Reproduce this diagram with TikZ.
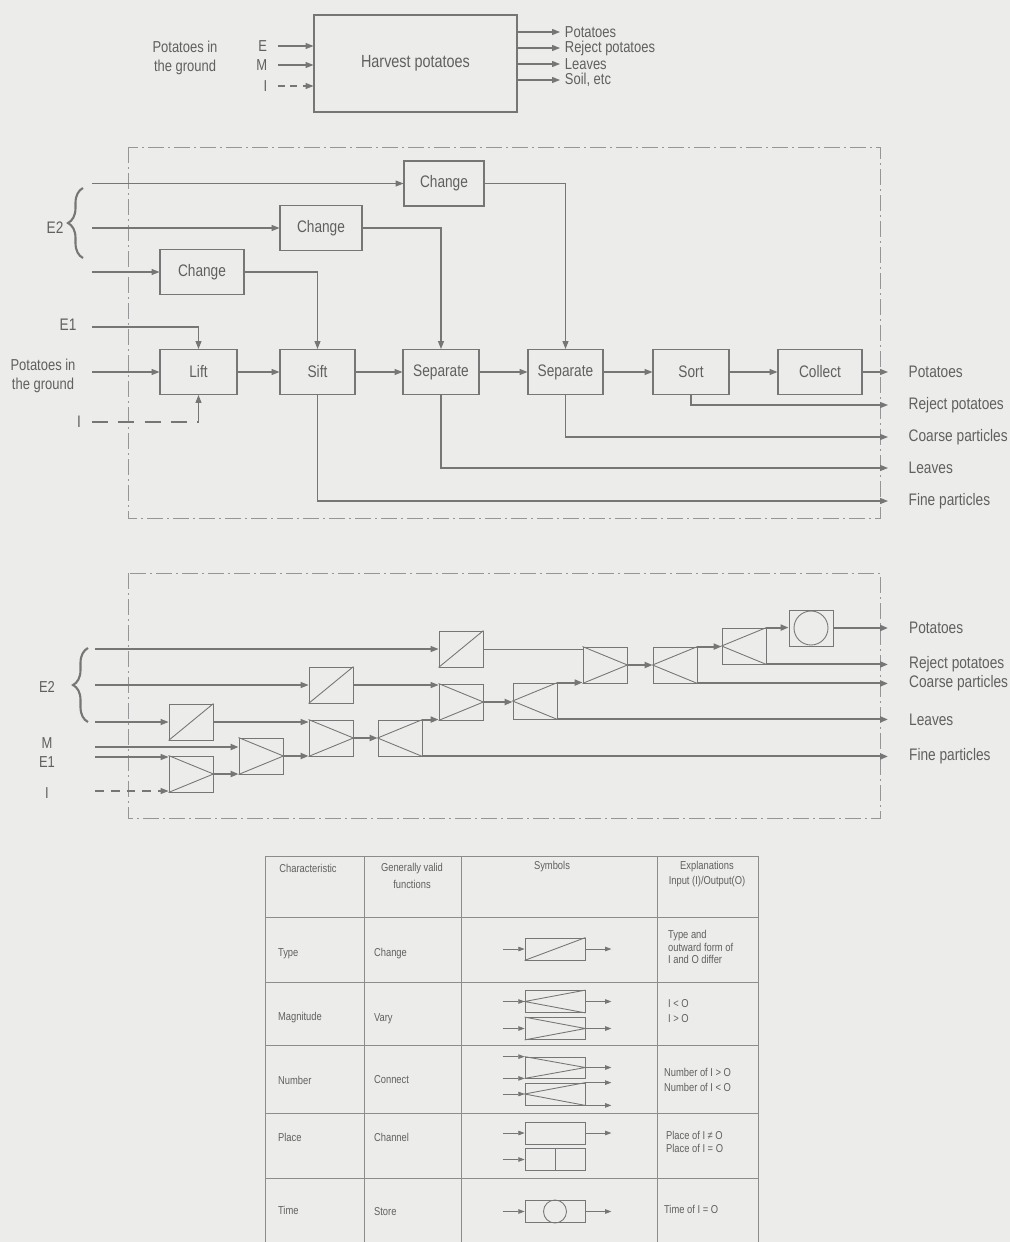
\documentclass[tikz,border=0pt]{standalone}
\usepackage{fontspec}
\setmainfont{Liberation Sans}[FakeStretch=0.82]
\usepackage{xcolor}
\usepackage{tikz}
\usetikzlibrary{arrows.meta, positioning, calc, decorations.pathreplacing}
\definecolor{ScanPaper}{RGB}{236, 236, 234}
\definecolor{ScanInk}{RGB}{118, 118, 118}
\definecolor{ScanText}{RGB}{96, 96, 96}
\definecolor{ScanFrame}{RGB}{150, 150, 150}
\definecolor{ScanGrid}{RGB}{140, 140, 140}

\tikzset{
  lbl/.style={text=ScanText, font=\fontsize{9.5}{11}\selectfont, inner sep=1pt},
  toplbl/.style={lbl, font=\fontsize{9}{10.8}\selectfont},
  tabtxt/.style={text=ScanText, font=\fontsize{6.5}{8}\selectfont, inner sep=1pt},
  procbox/.style={draw=ScanInk, line width=0.6pt, minimum width=1.52cm, minimum height=0.9cm, lbl},
  symbox/.style={draw=ScanInk, line width=0.5pt, minimum width=0.88cm, minimum height=0.72cm, inner sep=0pt},
  tabbox/.style={draw=ScanInk, line width=0.45pt, minimum width=1.2cm, minimum height=0.44cm, inner sep=0pt},
  flow/.style={draw=ScanInk, line width=0.6pt, -{Triangle[length=4.5pt,width=3.4pt]}},
  matflow/.style={flow, line width=1.1pt},
  tflow/.style={draw=ScanInk, line width=0.45pt, -{Triangle[length=3.6pt,width=2.6pt]}},
  symline/.style={draw=ScanInk, line width=0.5pt},
  frame/.style={draw=ScanFrame, line width=0.45pt, dash pattern=on 9pt off 2.5pt on 0.8pt off 2.5pt},
  tabline/.style={draw=ScanGrid, line width=0.45pt},
  ebrace/.style={draw=ScanInk, line width=1.2pt, decorate, decoration={brace, amplitude=0.3cm}}
}

\begin{document}
\begin{tikzpicture}[x=0.02cm, y=-0.02cm]
  \fill[ScanPaper] (0,0) rectangle (1010,1242);
  \useasboundingbox (0,0) rectangle (1010,1242);

  % overall function
  \node[procbox, font=\fontsize{10}{12}\selectfont, minimum width=4.06cm, minimum height=1.94cm] (harvest) at (415.5,63.5) {Harvest potatoes};
  \coordinate (tE) at (278,46);
  \coordinate (tM) at (278,65);
  \coordinate (tI) at (278,86);
  \node[toplbl, left=5pt of tE] (tElbl) {E};
  \node[toplbl, left=5pt of tM] (tMlbl) {M};
  \node[toplbl, left=5pt of tI] (tIlbl) {I};
  \node[toplbl, align=center] (tsoil) at (185,58) {Potatoes in\\the ground};
  \draw[flow] (tE) -- (tE -| harvest.west);
  \draw[flow] (tM) -- (tM -| harvest.west);
  \draw[flow, dash pattern=on 4pt off 3pt] (tI) -- (tI -| harvest.west);
  \coordinate (tout1) at (560,32);
  \coordinate (tout2) at (560,48);
  \coordinate (tout3) at (560,64);
  \coordinate (tout4) at (560,80);
  \draw[flow] (harvest.east |- tout1) -- (tout1) node[toplbl, anchor=west, xshift=1.5pt] (tPot) {Potatoes};
  \draw[flow] (harvest.east |- tout2) -- (tout2) node[toplbl, anchor=west, xshift=1.5pt] (tRej) {Reject potatoes};
  \draw[flow] (harvest.east |- tout3) -- (tout3) node[toplbl, anchor=west, xshift=1.5pt] (tLea) {Leaves};
  \draw[flow] (harvest.east |- tout4) -- (tout4) node[toplbl, anchor=west, xshift=1.5pt] (tSoil) {Soil, etc};

  % function structure
  \draw[frame] (128,147) rectangle (880,518);
  \node[procbox, minimum width=1.68cm] (chA) at (202,272) {Change};
  \node[procbox, minimum width=1.64cm] (chB) at (321,228) {Change};
  \node[procbox, minimum width=1.6cm] (chC) at (444,183.5) {Change};
  \node[procbox, minimum width=1.54cm] (lift) at (198.5,372) {Lift};
  \node[procbox, minimum width=1.5cm] (sift) at (317.5,372) {Sift};
  \node[procbox] (sepA) at (441,372) {Separate};
  \node[procbox, minimum width=1.5cm] (sepB) at (565.5,372) {Separate};
  \node[procbox] (sort) at (691,372) {Sort};
  \node[procbox, minimum width=1.68cm] (collect) at (820,372) {Collect};

  \coordinate (mE2a) at (92,183.5);
  \coordinate (mE2b) at (92,228);
  \coordinate (mE2c) at (92,272);
  \coordinate (mE1) at (92,327);
  \coordinate (mPot) at (92,372);
  \coordinate (mI) at (92,422);
  \draw[ebrace] (83,258) -- (83,188);
  \node[lbl] (mE2lbl) at (55,228) {E2};
  \node[lbl] (mE1lbl) at (68,325) {E1};
  \node[lbl] (mIlbl) at (79,422) {I};
  \node[lbl, align=center, font=\fontsize{9}{10.4}\selectfont] (mSoil) at (43,376) {Potatoes in\\the ground};

  \draw[flow] (mE2a) -- (mE2a -| chC.west);
  \draw[flow] (mE2b) -- (mE2b -| chB.west);
  \draw[flow] (mE2c) -- (mE2c -| chA.west);
  \draw[flow] (mE1) -| (lift.north);
  \draw[flow] (mPot) -- (lift);
  \draw[draw=ScanInk, line width=0.6pt, dash pattern=on 9pt off 6pt] (mI) -- (mI -| lift.south);
  \draw[flow] (mI -| lift.south) -- (lift.south);
  \draw[flow] (lift) -- (sift);
  \draw[flow] (sift) -- (sepA);
  \draw[flow] (sepA) -- (sepB);
  \draw[flow] (sepB) -- (sort);
  \draw[flow] (sort) -- (collect);
  \draw[flow] (chA.east) -| (sift.north);
  \draw[flow] (chB.east) -| (sepA.north);
  \draw[flow] (chC.east) -| (sepB.north);

  \coordinate (oPot) at (888,372);
  \coordinate (oRej) at (888,405);
  \coordinate (oCoarse) at (888,437);
  \coordinate (oLeaves) at (888,468);
  \coordinate (oFine) at (888,501);
  \draw[flow] (collect) -- (oPot) node[lbl, anchor=west, xshift=10.5pt] (mPotOut) {Potatoes};
  \draw[flow] (sort.south) |- (oRej) node[lbl, anchor=west, xshift=10.5pt] (mRejOut) {Reject potatoes};
  \draw[flow] (sepB.south) |- (oCoarse) node[lbl, anchor=west, xshift=10.5pt] (mCoaOut) {Coarse particles};
  \draw[flow] (sepA.south) |- (oLeaves) node[lbl, anchor=west, xshift=10.5pt] (mLeaOut) {Leaves};
  \draw[flow] (sift.south) |- (oFine) node[lbl, anchor=west, xshift=10.5pt] (mFinOut) {Fine particles};

  % symbol structure
  \draw[frame] (128,573) rectangle (880,818);
  \node[symbox] (bChgA) at (191,722) {};
  \node[symbox] (bJoinA) at (191,774) {};
  \node[symbox] (bJoinB) at (261,756) {};
  \node[symbox] (bChgB) at (331,685) {};
  \node[symbox] (bJoinC) at (331,738) {};
  \node[symbox] (bSplitA) at (400,738) {};
  \node[symbox] (bChgC) at (461,649) {};
  \node[symbox] (bJoinD) at (461,702) {};
  \node[symbox] (bSplitB) at (535,701) {};
  \node[symbox] (bJoinE) at (605,665) {};
  \node[symbox] (bSplitC) at (675,665) {};
  \node[symbox] (bSplitD) at (744,646) {};
  \node[symbox] (bStore) at (811,628) {};
  \foreach \n in {bChgA,bChgB,bChgC}
    \draw[symline] (\n.south west) -- (\n.north east);
  \foreach \n in {bJoinA,bJoinB,bJoinC,bJoinD,bJoinE}
    \draw[symline] (\n.north west) -- (\n.east) -- (\n.south west);
  \foreach \n in {bSplitA,bSplitB,bSplitC,bSplitD}
    \draw[symline] (\n.north east) -- (\n.west) -- (\n.south east);
  \draw[symline] (bStore.center) circle (0.34cm);

  \coordinate (bE2a) at (95,649);
  \coordinate (bE2b) at (95,685);
  \coordinate (bE2c) at (95,722);
  \coordinate (bM) at (95,747);
  \coordinate (bE1) at (95,757);
  \coordinate (bI) at (95,791);
  \draw[ebrace] (88,722) -- (88,648);
  \node[lbl, font=\fontsize{9}{10}\selectfont] (bE2lbl) at (47,687) {E2};
  \node[lbl, font=\fontsize{9}{10}\selectfont] (bMlbl) at (47,743) {M};
  \node[lbl, font=\fontsize{9}{10}\selectfont] (bE1lbl) at (47,762) {E1};
  \node[lbl, font=\fontsize{9}{10}\selectfont] (bIlbl) at (47,793) {I};

  \draw[flow] (bE2a) -- (bE2a -| bChgC.west);
  \draw[flow] (bE2b) -- (bE2b -| bChgB.west);
  \draw[flow] (bE2c) -- (bE2c -| bChgA.west);
  \draw[matflow] (bM) -- (bM -| bJoinB.west);
  \draw[flow] (bE1) -- (bE1 -| bJoinA.west);
  \draw[flow, dash pattern=on 5pt off 4pt] (bI) -- (bI -| bJoinA.west);

  \draw[flow] (bChgA.east) -- (bChgA.east -| bJoinC.west);
  \draw[matflow] (bJoinA.east) -- (bJoinA.east -| bJoinB.west);
  \draw[matflow] (bJoinB.east) -- (bJoinB.east -| bJoinC.west);
  \draw[matflow] (bJoinC) -- (bSplitA);
  \draw[flow] (bChgB.east) -- (bChgB.east -| bJoinD.west);
  \draw[matflow] (bSplitA.north east) -- (bSplitA.north east -| bJoinD.west);
  \draw[matflow] (bJoinD) -- (bJoinD -| bSplitB.west);
  \draw[symline] (bChgC.east) -- (bChgC.east -| bJoinE.west);
  \draw[matflow] (bSplitB.north east) -- (bSplitB.north east -| bJoinE.west);
  \draw[matflow] (bJoinE) -- (bSplitC);
  \draw[matflow] (bSplitC.north east) -- (bSplitC.north east -| bSplitD.west);
  \draw[matflow] (bSplitD.north east) -- (bSplitD.north east -| bStore.west);

  \coordinate (qEnd) at (888,628);
  \draw[matflow] (bStore) -- (qEnd) node[lbl, anchor=west, xshift=10.5pt] (bPotOut) {Potatoes};
  \draw[matflow] (bSplitD.south east) -- (bSplitD.south east -| qEnd) node[lbl, anchor=west, xshift=10.5pt] (bRejOut) {Reject potatoes};
  \draw[matflow] (bSplitC.south east) -- (bSplitC.south east -| qEnd) node[lbl, anchor=west, xshift=10.5pt] (bCoaOut) {Coarse particles};
  \draw[matflow] (bSplitB.south east) -- (bSplitB.south east -| qEnd) node[lbl, anchor=west, xshift=10.5pt] (bLeaOut) {Leaves};
  \draw[matflow] (bSplitA.south east) -- (bSplitA.south east -| qEnd) node[lbl, anchor=west, xshift=10.5pt] (bFinOut) {Fine particles};

  % symbol table
  \foreach \x in {265,364,461,657,758}
    \draw[tabline] (\x,856) -- (\x,1242);
  \foreach \y in {856,917,982,1045,1113,1178}
    \draw[tabline] (265,\y) -- (758,\y);

  \node[tabtxt] (hChar) at (308,868) {Characteristic};
  \node[tabtxt, align=center, font=\fontsize{6.5}{9.6}\selectfont] (hFunc) at (412,876) {Generally valid\\functions};
  \node[tabtxt] (hSym) at (552,867) {Symbols};
  \node[tabtxt, align=center, font=\fontsize{6.5}{9}\selectfont] (hExpl) at (707,874) {Explanations\\Input (I)/Output(O)};

  \node[tabtxt, anchor=west] (cType) at (276,954) {Type};
  \node[tabtxt, anchor=west] (cMag) at (276,1018) {Magnitude};
  \node[tabtxt, anchor=west] (cNum) at (276,1080) {Number};
  \node[tabtxt, anchor=west] (cPlace) at (276,1137) {Place};
  \node[tabtxt, anchor=west] (cTime) at (276,1210) {Time};
  \node[tabtxt, anchor=west] (fChange) at (372,954) {Change};
  \node[tabtxt, anchor=west] (fVary) at (372,1019) {Vary};
  \node[tabtxt, anchor=west] (fConnect) at (372,1080) {Connect};
  \node[tabtxt, anchor=west] (fChannel) at (372,1137) {Channel};
  \node[tabtxt, anchor=west] (fStore) at (372,1212) {Store};
  \node[tabtxt, anchor=west, align=left, font=\fontsize{6.5}{6.9}\selectfont] (eType) at (666,947) {Type and\\outward form of\\I and O differ};
  \node[tabtxt, anchor=west, align=left, font=\fontsize{6.5}{8.5}\selectfont] (eMag) at (666,1011) {I < O\\I > O};
  \node[tabtxt, anchor=west, align=left, font=\fontsize{6.5}{8.5}\selectfont] (eNum) at (662,1080) {Number of I > O\\Number of I < O};
  \node[tabtxt, anchor=west, align=left, font=\fontsize{6.5}{7.4}\selectfont] (ePlace) at (664,1142) {Place of I ≠ O\\Place of I = O};
  \node[tabtxt, anchor=west] (eTime) at (662,1209) {Time of I = O};

  \node[tabbox] (tType) at (555,949) {};
  \node[tabbox] (tVaryA) at (555,1001.5) {};
  \node[tabbox] (tVaryB) at (555,1028.5) {};
  \node[tabbox, minimum height=0.42cm] (tConA) at (555,1067.5) {};
  \node[tabbox] (tConB) at (555,1094) {};
  \node[tabbox] (tPlaceA) at (555,1133) {};
  \node[tabbox] (tPlaceB) at (555,1159.5) {};
  \node[tabbox] (tStore) at (555,1211.5) {};

  \draw[symline] (tType.south west) -- (tType.north east);
  \draw[symline] (tVaryA.north east) -- (tVaryA.west) -- (tVaryA.south east);
  \draw[symline] (tVaryB.north west) -- (tVaryB.east) -- (tVaryB.south west);
  \draw[symline] (tConA.north west) -- (tConA.east) -- (tConA.south west);
  \draw[symline] (tConB.north east) -- (tConB.west) -- (tConB.south east);
  \draw[symline] (tPlaceB.north) -- (tPlaceB.south);
  \draw[symline] (tStore.center) circle (0.23cm);

  \foreach \n in {tType,tVaryA,tVaryB,tConB,tPlaceA,tPlaceB,tStore}
    \draw[tflow] ([xshift=-0.44cm]\n.west) -- (\n.west);
  \draw[tflow] ([xshift=-0.44cm]tConA.north west) -- (tConA.north west);
  \draw[tflow] ([xshift=-0.44cm]tConA.south west) -- (tConA.south west);
  \foreach \n in {tType,tVaryA,tVaryB,tConA,tPlaceA,tStore}
    \draw[tflow] (\n.east) -- ([xshift=0.52cm]\n.east);
  \draw[tflow] (tConB.north east) -- ([xshift=0.52cm]tConB.north east);
  \draw[tflow] (tConB.south east) -- ([xshift=0.52cm]tConB.south east);
\end{tikzpicture}
\end{document}
